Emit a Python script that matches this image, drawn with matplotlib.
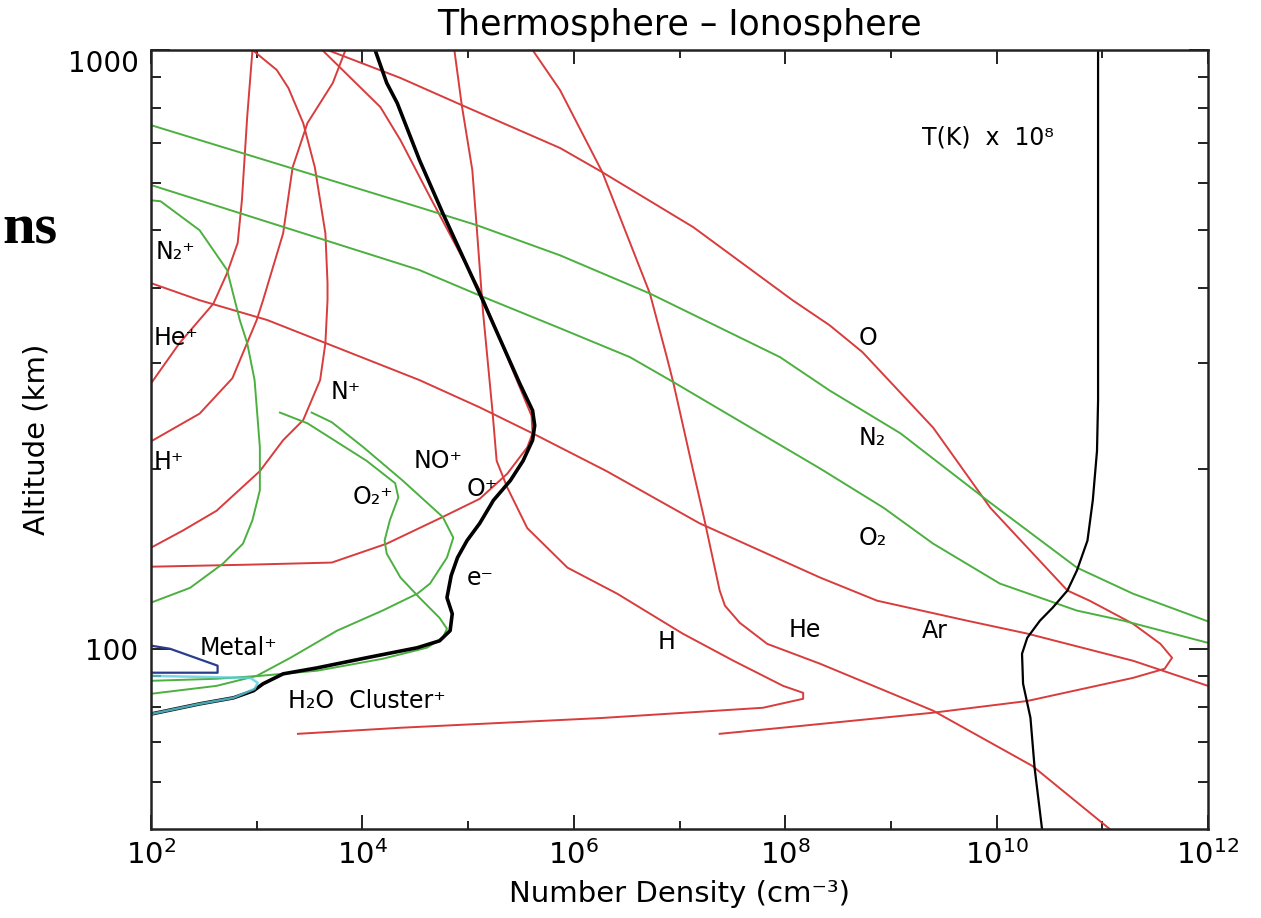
import numpy as np
import matplotlib
matplotlib.use("Agg")
import matplotlib.pyplot as plt
from matplotlib.ticker import FixedLocator, FixedFormatter, NullFormatter
from matplotlib.transforms import ScaledTranslation

# ---------------- data: altitude (km) and log10 number density (cm^-3) -------------
# neutrals
O_alt = [1000, 898, 809, 686, 625, 506, 382, 347, 313, 234, 172, 125.1, 120.3, 110.1,
         101.9, 96.6, 92.6, 89.4, 81.8, 78.2, 74.3, 72.1]
O_logn = [3.67, 4.36, 4.94, 5.87, 6.27, 7.13, 8.07, 8.42, 8.73, 9.40, 9.94, 10.67, 10.88,
          11.29, 11.55, 11.66, 11.59, 11.29, 10.29, 9.40, 8.14, 7.38]

He_alt = [1000, 857, 625, 392, 307, 279, 198, 166, 125.1, 118, 110.5, 101.9, 94.4, 78.8,
          63.7, 50]
He_logn = [5.61, 5.87, 6.27, 6.72, 6.88, 6.94, 7.13, 7.23, 7.38, 7.43, 7.57, 7.83, 8.33,
           9.40, 10.34, 11.07]

H_alt = [1000, 809, 630, 510, 367, 250, 206, 186, 159, 136.6, 123.6, 106, 95.5, 86.7,
         84.4, 82.5, 79.7, 76.6, 73.8, 72.1]
H_logn = [4.87, 4.94, 5.04, 5.08, 5.14, 5.23, 5.27, 5.37, 5.56, 5.94, 6.41, 7.03, 7.51,
          7.98, 8.17, 8.17, 7.79, 6.25, 4.36, 3.39]

Ar_alt = [408, 382, 354, 281, 253, 229, 198, 162, 131.5, 120.3, 111.4, 106, 95.5, 86.7]
Ar_logn = [2.00, 2.46, 3.10, 4.54, 5.11, 5.61, 6.31, 7.19, 8.33, 8.87, 9.72, 10.29,
           11.29, 12.00]

N2_alt = [749, 546, 510, 454, 392, 307, 270, 229, 177, 136.6, 123.6, 111.1]
N2_logn = [2.00, 4.54, 5.08, 5.87, 6.72, 7.95, 8.42, 9.09, 9.91, 10.76, 11.29, 12.00]

O2_alt = [595, 429, 389, 343, 307, 279, 200, 172, 149.8, 128.5, 115.8, 111.4, 102.3]
O2_logn = [2.00, 4.54, 5.11, 5.87, 6.53, 6.94, 8.33, 8.93, 9.40, 10.03, 10.76, 11.20, 12.00]

# ions
Oplus_alt = [1000, 803, 707, 568, 397, 273, 245, 229, 217, 196, 178, 166, 149.8, 139.3,
             138.2, 137.1]
Oplus_logn = [3.62, 4.17, 4.36, 4.64, 5.11, 5.49, 5.60, 5.61, 5.56, 5.37, 5.11, 4.76,
              4.23, 3.71, 2.94, 2.00]

Heplus_alt = [1000, 773, 561, 476, 424, 377, 324, 279]
Heplus_logn = [2.96, 2.91, 2.86, 2.82, 2.72, 2.59, 2.27, 2.01]

Hplus_alt = [1000, 881, 755, 637, 494, 382, 354, 283, 247, 238, 222]
Hplus_logn = [3.84, 3.72, 3.48, 3.34, 3.25, 3.06, 3.00, 2.77, 2.46, 2.30, 2.00]

Nplus_alt = [1000, 926, 864, 755, 637, 494, 408, 382, 324, 281, 241, 223, 198, 170,
             157.5, 147.5]
Nplus_logn = [2.96, 3.19, 3.30, 3.44, 3.55, 3.65, 3.67, 3.67, 3.65, 3.60, 3.44, 3.25,
              3.03, 2.62, 2.30, 2.00]

N2plus_alt = [561, 559, 500, 429, 354, 324, 281, 217, 184, 164, 149.8, 138.7, 126.4,
              119.4]
N2plus_logn = [2.00, 2.09, 2.46, 2.72, 2.84, 2.91, 2.98, 3.03, 3.03, 2.96, 2.87, 2.68,
               2.37, 2.00]

O2plus_alt = [248, 238, 206, 189, 179, 164, 151.6, 144.2, 131.5, 121.7, 112.6, 108,
              104.3, 100.4, 96.2, 91.9, 90.1, 89.1, 88.4]
O2plus_logn = [3.22, 3.48, 4.04, 4.31, 4.34, 4.26, 4.21, 4.23, 4.36, 4.54, 4.73, 4.80,
               4.76, 4.61, 4.19, 3.57, 3.03, 2.62, 2.00]

NOplus_alt = [248, 239, 217, 191, 166, 153.3, 142, 128.5, 123.6, 115.8, 107.2, 96.6,
              90.1, 86.7, 84.1]
NOplus_logn = [3.52, 3.71, 4.01, 4.38, 4.76, 4.86, 4.80, 4.64, 4.52, 4.19, 3.76, 3.32,
               3.00, 2.62, 2.00]

e_alt = [1000, 881, 815, 655, 534, 392, 277, 250, 236, 223, 206, 191, 177, 162, 151.6,
         142, 132.5, 121.7, 114.4, 107.2, 103.1, 100.4, 96.6, 92.9, 90.8, 87.4, 85.1,
         82.8, 80.9, 77.8]
e_logn = [4.12, 4.23, 4.33, 4.54, 4.76, 5.11, 5.49, 5.61, 5.63, 5.61, 5.52, 5.40, 5.24,
          5.11, 4.99, 4.90, 4.84, 4.80, 4.85, 4.83, 4.73, 4.52, 4.04, 3.57, 3.25, 3.06,
          2.97, 2.78, 2.46, 2.00]

Metal_alt = [101.2, 100, 93.7, 91.2, 91.2]
Metal_logn = [2.00, 2.18, 2.63, 2.63, 2.00]

H2O_alt = [90.1, 89.4, 87.7, 85.7, 82.8, 80.9, 77.8]
H2O_logn = [2.00, 2.94, 3.01, 2.98, 2.78, 2.46, 2.00]

# temperature (K), plotted as T x 1e8
T_alt = [1000, 382, 260, 214, 177, 151.6, 135.1, 125.1, 117.1, 111.4, 104.3, 98.1,
         87.4, 76.7, 63.2, 50]
T_K = [912, 912, 912, 891, 813, 724, 575, 468, 339, 257, 195, 174, 178, 209, 229, 269]

x_major = [1e2, 1e4, 1e6, 1e8, 1e10, 1e12]
x_major_labels = [r"$10^{2}$", r"$10^{4}$", r"$10^{6}$", r"$10^{8}$", r"$10^{10}$",
                  r"$10^{12}$"]
x_minor = [1e3, 1e5, 1e7, 1e9, 1e11]
y_major = [100, 1000]
y_major_labels = ["100", "1000"]
y_minor = [60, 70, 80, 90, 200, 300, 400, 500, 600, 700, 800, 900]

# ---------------- figure ----------------
plt.rcParams["font.family"] = ["DejaVu Sans"]
RED = "#d83c3c"
GREEN = "#4cb040"
BLUE = "#2a3d8c"
CYAN = "#5ccfe0"

fig = plt.figure(figsize=(12.61, 9.18), dpi=100)
ax = fig.add_axes([151 / 1261, 1 - 829 / 918, (1208 - 151) / 1261, (829 - 50) / 918])


def d(logn):
    return 10 ** np.asarray(logn, dtype=float)


for alt, lg in [(O_alt, O_logn), (He_alt, He_logn), (H_alt, H_logn), (Ar_alt, Ar_logn),
                (Oplus_alt, Oplus_logn), (Heplus_alt, Heplus_logn),
                (Hplus_alt, Hplus_logn), (Nplus_alt, Nplus_logn)]:
    ax.plot(d(lg), alt, color=RED, lw=1.4, solid_joinstyle="round")

for alt, lg in [(N2_alt, N2_logn), (O2_alt, O2_logn), (N2plus_alt, N2plus_logn),
                (O2plus_alt, O2plus_logn), (NOplus_alt, NOplus_logn)]:
    ax.plot(d(lg), alt, color=GREEN, lw=1.4, solid_joinstyle="round")

ax.plot(np.asarray(T_K) * 1e8, T_alt, color="black", lw=1.6)
ax.plot(d(e_logn), e_alt, color="black", lw=2.6, solid_joinstyle="round")
ax.plot(d(Metal_logn), Metal_alt, color=BLUE, lw=1.6)
ax.plot(d(H2O_logn), H2O_alt, color=CYAN, lw=1.8, alpha=0.8)

ax.set_xscale("log")
ax.set_yscale("log")
ax.set_xlim(1e2, 1e12)
ax.set_ylim(50, 1000)

ax.xaxis.set_major_locator(FixedLocator(x_major))
ax.xaxis.set_major_formatter(FixedFormatter(x_major_labels))
ax.xaxis.set_minor_locator(FixedLocator(x_minor))
ax.xaxis.set_minor_formatter(NullFormatter())
ax.yaxis.set_major_locator(FixedLocator(y_major))
ax.yaxis.set_major_formatter(FixedFormatter(y_major_labels))
ax.yaxis.set_minor_locator(FixedLocator(y_minor))
ax.yaxis.set_minor_formatter(NullFormatter())

ax.tick_params(which="both", direction="in", top=True, right=True, width=1.4,
               color="#222222")
ax.tick_params(axis="x", which="major", length=10, labelsize=21, pad=8)
ax.tick_params(axis="x", which="minor", length=6)
ax.tick_params(axis="y", which="major", length=14, labelsize=20, pad=9)
ax.tick_params(axis="y", which="minor", length=7)
for s in ax.spines.values():
    s.set_linewidth(1.8)
    s.set_color("#222222")

fig.canvas.draw()
for t in ax.get_yticklabels():
    if t.get_text() == "1000":
        t.set_transform(t.get_transform() + ScaledTranslation(0, -8 / 72, fig.dpi_scale_trans))

ax.set_title("Thermosphere \u2013 Ionosphere", fontsize=25, pad=11)
ax.set_xlabel("Number Density (cm\u207b\u00b3)", fontsize=21, labelpad=7)
ax.set_ylabel("Altitude (km)", fontsize=21, labelpad=12)

lab = dict(fontsize=17, ha="left", va="center", color="black")
ax.text(110, 459, "N\u2082\u207a", **lab)
ax.text(105, 330, "He\u207a", **lab)
ax.text(105, 205, "H\u207a", **lab)
ax.text(10 ** 3.70, 268, "N\u207a", **lab)
ax.text(10 ** 4.48, 206, "NO\u207a", **lab)
ax.text(10 ** 3.91, 179, "O\u2082\u207a", **lab)
ax.text(10 ** 4.99, 185, "O\u207a", **lab)
ax.text(10 ** 4.99, 131.5, "e\u207b", **lab)
ax.text(10 ** 2.46, 100.4, "Metal\u207a", **lab)
ax.text(10 ** 3.30, 81.8, "H\u2082O  Cluster\u207a", **lab)
ax.text(10 ** 6.79, 102.7, "H", **lab)
ax.text(10 ** 8.03, 107.6, "He", **lab)
ax.text(10 ** 9.29, 107.2, "Ar", **lab)
ax.text(10 ** 8.69, 330, "O", **lab)
ax.text(10 ** 8.69, 225, "N\u2082", **lab)
ax.text(10 ** 8.69, 153.3, "O\u2082", **lab)
ax.text(10 ** 9.29, 715, "T(K)  x  10\u2078", **lab)

# fragment of slide text at the left edge
fig.text(2 / 1261, 1 - 230 / 918, "ns", ha="left", va="center", fontsize=42,
         family="Liberation Serif", fontweight="bold", color="black")

fig.savefig("out.png", dpi=100)
